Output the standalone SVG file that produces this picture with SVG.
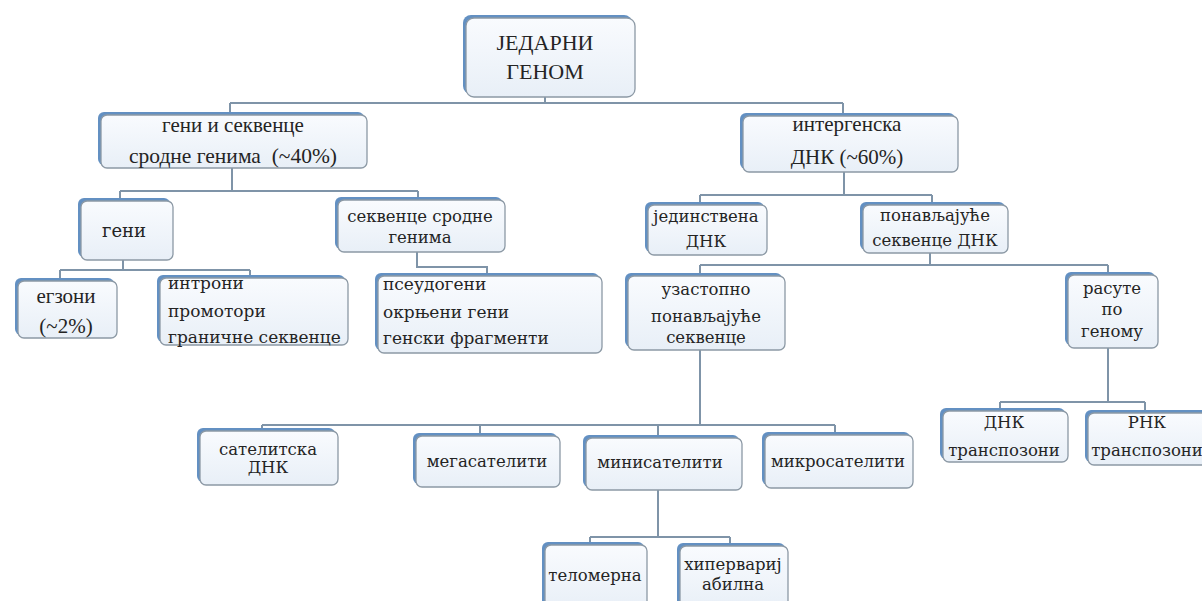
<svg xmlns="http://www.w3.org/2000/svg" width="1202" height="601" viewBox="0 0 1202 601">
<defs>
<linearGradient id="fill" x1="0" y1="0" x2="0" y2="1">
<stop offset="0" stop-color="#f9fbfe"/>
<stop offset="1" stop-color="#e8eff7"/>
</linearGradient>
<style>
.back{fill:#6390c2}
.front{fill:url(#fill);stroke:#8c99a5;stroke-width:1.3}
.c{fill:none;stroke:#7f94a8;stroke-width:2}
.t1{font-family:"Liberation Serif",serif;font-size:22px;fill:#242424;text-anchor:middle}
.t2{font-family:"Liberation Serif",serif;font-size:21px;fill:#242424;text-anchor:middle}
.t3{font-family:"DejaVu Serif",serif;font-size:16.5px;fill:#242424;text-anchor:middle}
.t3l{font-family:"DejaVu Serif",serif;font-size:17px;fill:#242424}
</style>
</defs>
<rect width="1202" height="601" fill="#ffffff"/>
<g id="connectors">
<path class="c" d="M545 97V103M230 103H843M230 103V112M843 103V113"/>
<path class="c" d="M232 168V191M120 191H418M120 191V198M418 191V197"/>
<path class="c" d="M123 260V270M60 270H250M60 270V278M250 270V275"/>
<path class="c" d="M417 252V267H487V273"/>
<path class="c" d="M844 172V195M700 195H932M700 195V202M932 195V202"/>
<path class="c" d="M930 253V265M700 265H1108M700 265V273M1108 265V272"/>
<path class="c" d="M700 350V425M262 425H835M262 425V428M480 425V433M658 425V435M835 425V432"/>
<path class="c" d="M1108 348V402M1000 402H1145M1000 402V408M1145 402V410"/>
<path class="c" d="M658 490V537M590 537H730M590 537V542M730 537V543"/>
</g>
<g id="n-root">
<rect class="back" x="463" y="15" width="169" height="79" rx="8"/>
<rect class="front" x="466" y="18" width="169" height="79" rx="8"/>
<text class="t1" x="545" y="50">ЈЕДАРНИ</text>
<text class="t1" x="545" y="79">ГЕНОМ</text>
</g>
<g id="n-geni-sekvence">
<rect class="back" x="98" y="112" width="266" height="53" rx="6"/>
<rect class="front" x="101" y="115" width="266" height="53" rx="6"/>
<text class="t2" x="233" y="132">гени и секвенце</text>
<text class="t2" x="233" y="163" xml:space="preserve" style="font-size:21.5px">сродне генима  (~40%)</text>
</g>
<g id="n-intergenska">
<rect class="back" x="740" y="113" width="215" height="56" rx="6"/>
<rect class="front" x="743" y="116" width="215" height="56" rx="6"/>
<text class="t2" x="847" y="131">интергенска</text>
<text class="t2" x="847" y="164">ДНК (~60%)</text>
</g>
<g id="n-geni">
<rect class="back" x="78" y="198" width="92" height="59" rx="6"/>
<rect class="front" x="81" y="201" width="92" height="59" rx="6"/>
<text class="t3" x="124" y="237" style="font-size:18px">гени</text>
</g>
<g id="n-sekvence-srodne">
<rect class="back" x="335" y="197" width="167" height="52" rx="6"/>
<rect class="front" x="338" y="200" width="167" height="52" rx="6"/>
<text class="t3" x="420" y="222">секвенце сродне</text>
<text class="t3" x="420" y="243">генима</text>
</g>
<g id="n-jedinstvena">
<rect class="back" x="645" y="202" width="119" height="50" rx="6"/>
<rect class="front" x="648" y="205" width="119" height="50" rx="6"/>
<text class="t3" x="706" y="222">јединствена</text>
<text class="t3" x="706" y="247">ДНК</text>
</g>
<g id="n-ponavljajuce">
<rect class="back" x="860" y="202" width="145" height="48" rx="6"/>
<rect class="front" x="863" y="205" width="145" height="48" rx="6"/>
<text class="t3" x="935" y="221">понављајуће</text>
<text class="t3" x="935" y="246">секвенце ДНК</text>
</g>
<g id="n-egzoni">
<rect class="back" x="15" y="278" width="99" height="57" rx="6"/>
<rect class="front" x="18" y="281" width="99" height="57" rx="6"/>
<text class="t2" x="66" y="303">егзони</text>
<text class="t2" x="66" y="333">(~2%)</text>
</g>
<g id="n-introni">
<rect class="back" x="157" y="275" width="188" height="67" rx="6"/>
<rect class="front" x="160" y="278" width="188" height="67" rx="6"/>
<text class="t3l" x="168" y="289">интрони</text>
<text class="t3l" x="168" y="317">промотори</text>
<text class="t3l" x="168" y="343">граничне секвенце</text>
</g>
<g id="n-pseudogeni">
<rect class="back" x="375" y="273" width="224" height="77" rx="6"/>
<rect class="front" x="378" y="276" width="224" height="77" rx="6"/>
<text class="t3l" x="383" y="290">псеудогени</text>
<text class="t3l" x="383" y="318">окрњени гени</text>
<text class="t3l" x="383" y="344">генски фрагменти</text>
</g>
<g id="n-uzastopno">
<rect class="back" x="625" y="273" width="157" height="74" rx="6"/>
<rect class="front" x="628" y="276" width="157" height="74" rx="6"/>
<text class="t3" x="706" y="295">узастопно</text>
<text class="t3" x="706" y="322">понављајуће</text>
<text class="t3" x="706" y="343">секвенце</text>
</g>
<g id="n-rasute">
<rect class="back" x="1065" y="272" width="90" height="73" rx="6"/>
<rect class="front" x="1068" y="275" width="90" height="73" rx="6"/>
<text class="t3" x="1112" y="294">расуте</text>
<text class="t3" x="1112" y="315">по</text>
<text class="t3" x="1112" y="337">геному</text>
</g>
<g id="n-satelitska">
<rect class="back" x="197" y="428" width="138" height="54" rx="6"/>
<rect class="front" x="200" y="431" width="138" height="54" rx="6"/>
<text class="t3" x="268" y="455">сателитска</text>
<text class="t3" x="268" y="473">ДНК</text>
</g>
<g id="n-megasateliti">
<rect class="back" x="413" y="433" width="144" height="51" rx="6"/>
<rect class="front" x="416" y="436" width="144" height="51" rx="6"/>
<text class="t3" x="487" y="467">мегасателити</text>
</g>
<g id="n-minisateliti">
<rect class="back" x="583" y="435" width="156" height="52" rx="6"/>
<rect class="front" x="586" y="438" width="156" height="52" rx="6"/>
<text class="t3" x="660" y="468">минисателити</text>
</g>
<g id="n-mikrosateliti">
<rect class="back" x="762" y="432" width="148" height="53" rx="6"/>
<rect class="front" x="765" y="435" width="148" height="53" rx="6"/>
<text class="t3" x="838" y="467">микросателити</text>
</g>
<g id="n-dnk-transpozoni">
<rect class="back" x="940" y="408" width="125" height="51" rx="6"/>
<rect class="front" x="943" y="411" width="125" height="51" rx="6"/>
<text class="t3" x="1004" y="428">ДНК</text>
<text class="t3" x="1004" y="456">транспозони</text>
</g>
<g id="n-rnk-transpozoni">
<rect class="back" x="1085" y="410" width="122" height="52" rx="6"/>
<rect class="front" x="1088" y="413" width="122" height="52" rx="6"/>
<text class="t3" x="1147" y="428">РНК</text>
<text class="t3" x="1147" y="456">транспозони</text>
</g>
<g id="n-telomerna">
<rect class="back" x="542" y="542" width="102" height="65" rx="6"/>
<rect class="front" x="545" y="545" width="102" height="65" rx="6"/>
<text class="t3" x="595" y="581">теломерна</text>
</g>
<g id="n-hipervarijabilna">
<rect class="back" x="677" y="543" width="108" height="64" rx="6"/>
<rect class="front" x="680" y="546" width="108" height="64" rx="6"/>
<text class="t3" x="733" y="570">хипервариј</text>
<text class="t3" x="733" y="590">абилна</text>
</g>
</svg>
